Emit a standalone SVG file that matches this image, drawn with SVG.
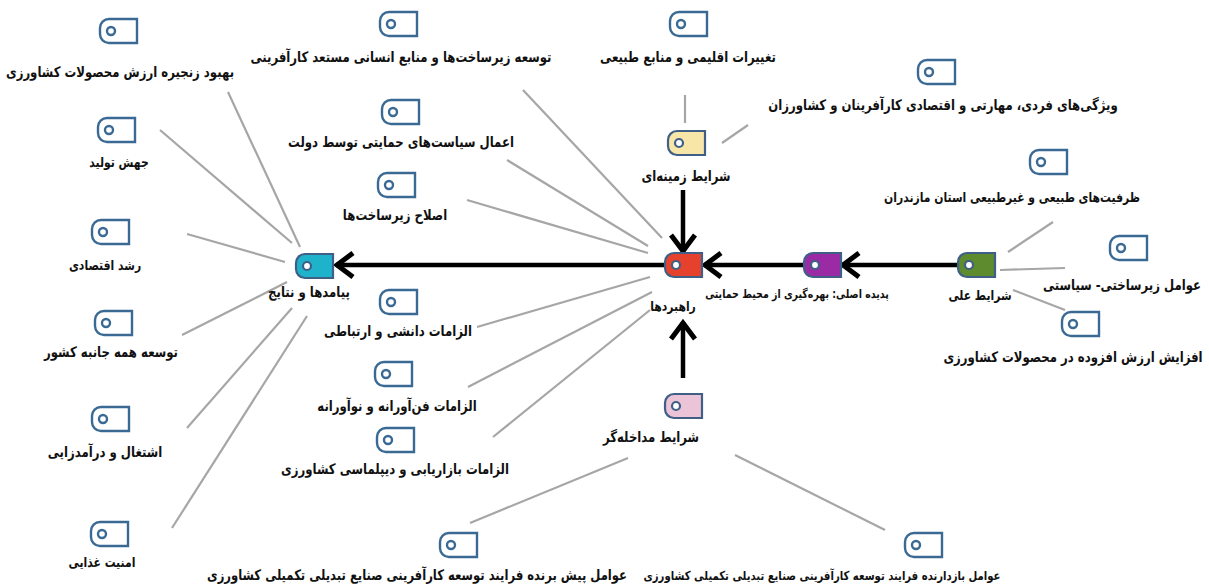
<svg xmlns="http://www.w3.org/2000/svg" xmlns:xlink="http://www.w3.org/1999/xlink" width="1209" height="587" viewBox="0 0 1209 587">
<style>
text{font-family:"DejaVu Sans Condensed","DejaVu Sans",sans-serif;font-stretch:condensed;font-weight:bold;fill:#111;text-anchor:middle;direction:rtl}
.t{font-size:14.5px}
.s{font-size:13.4px}
.ic{fill:#fff;stroke:#3A6A94;stroke-width:2.4}
.cn{stroke:#3F5F87;stroke-width:2.2}
.g line{stroke:#A6A6A6;stroke-width:2.2}
.a line{stroke:#000;stroke-width:4.5}
</style>
<defs>
<g id="tag"><path d="M9,0 H37 V24 H9 A9,9 0 0 1 0,15 V9 A9,9 0 0 1 9,0 Z"/><circle cx="11" cy="12" r="4" fill="#fff"/></g>
<marker id="ah" markerUnits="userSpaceOnUse" markerWidth="40" markerHeight="40" viewBox="-25 -20 40 40" refX="0" refY="0" orient="auto" overflow="visible"><path d="M-17,-12 L-1,0 L-17,12" fill="none" stroke="#000" stroke-width="5"/></marker>
</defs>
<rect width="1209" height="587" fill="#fff"/>
<g id="connectors">
<g class="g">
<line x1="228" y1="92" x2="300" y2="247"/>
<line x1="160" y1="130" x2="292" y2="243"/>
<line x1="187" y1="234" x2="285" y2="262"/>
<line x1="182" y1="335" x2="287" y2="282"/>
<line x1="187" y1="428" x2="292" y2="308"/>
<line x1="172" y1="528" x2="307" y2="316"/>
<line x1="523" y1="90" x2="662" y2="238"/>
<line x1="507" y1="160" x2="648" y2="246"/>
<line x1="467" y1="200" x2="648" y2="253"/>
<line x1="477" y1="327" x2="650" y2="277"/>
<line x1="468" y1="387" x2="652" y2="292"/>
<line x1="493" y1="437" x2="650" y2="310"/>
<line x1="685" y1="95" x2="685" y2="123"/>
<line x1="722" y1="143" x2="748" y2="125"/>
<line x1="1008" y1="252" x2="1053" y2="222"/>
<line x1="1000" y1="270" x2="1065" y2="268"/>
<line x1="1013" y1="290" x2="1065" y2="310"/>
<line x1="628" y1="458" x2="470" y2="523"/>
<line x1="735" y1="455" x2="885" y2="530"/>
</g>
<g class="a">
<line x1="664" y1="265" x2="336" y2="265" marker-end="url(#ah)"/>
<line x1="805" y1="265" x2="704" y2="265" marker-end="url(#ah)"/>
<line x1="958" y1="265" x2="842" y2="265" marker-end="url(#ah)"/>
<line x1="683" y1="190" x2="683" y2="252" marker-end="url(#ah)"/>
<line x1="683" y1="378" x2="683" y2="322" marker-end="url(#ah)"/>
</g>
</g>
<g id="n1"><use xlink:href="#tag" x="100" y="19" class="ic"/><text class="t" transform="scale(0.897 1)" x="133.8" y="77">بهبود زنجیره ارزش محصولات کشاورزی</text></g>
<g id="n2"><use xlink:href="#tag" x="380" y="12" class="ic"/><text class="t" transform="scale(0.897 1)" x="447" y="62">توسعه زیرساخت‌ها و منابع  انسانی مستعد کارآفرینی</text></g>
<g id="n3"><use xlink:href="#tag" x="670" y="12" class="ic"/><text class="t" transform="scale(0.897 1)" x="767" y="62">تغییرات اقلیمی و منابع طبیعی</text></g>
<g id="n4"><use xlink:href="#tag" x="918" y="60" class="ic"/><text class="t" transform="scale(0.897 1)" x="1051.3" y="110">ویژگی‌های فردی، مهارتی و اقتصادی کارآفرینان و کشاورزان</text></g>
<g id="n5"><use xlink:href="#tag" x="382" y="100" class="ic"/><text class="t" transform="scale(0.897 1)" x="447" y="147">اعمال سیاست‌های حمایتی توسط دولت</text></g>
<g id="n6"><use xlink:href="#tag" x="98" y="118" class="ic"/><text class="s" transform="scale(0.897 1)" x="132.7" y="167">جهش تولید</text></g>
<g id="n7"><use xlink:href="#tag" x="668" y="131" class="cn" fill="#F8E6A8"/><text class="t" transform="scale(0.897 1)" x="764.8" y="181">شرایط زمینه‌ای</text></g>
<g id="n8"><use xlink:href="#tag" x="1030" y="150" class="ic"/><text class="s" transform="scale(0.897 1)" x="1128.2" y="202">ظرفیت‌های طبیعی و غیرطبیعی استان مازندران</text></g>
<g id="n9"><use xlink:href="#tag" x="378" y="173" class="ic"/><text class="t" transform="scale(0.897 1)" x="440.4" y="220">اصلاح زیرساخت‌ها</text></g>
<g id="n10"><use xlink:href="#tag" x="92" y="220" class="ic"/><text class="s" transform="scale(0.897 1)" x="117.1" y="270">رشد اقتصادی</text></g>
<g id="n11"><use xlink:href="#tag" x="1110" y="236" class="ic"/><text class="t" transform="scale(0.897 1)" x="1250.8" y="290">عوامل زیرساختی- سیاستی</text></g>
<g id="n12"><use xlink:href="#tag" x="296" y="254" class="cn" fill="#1FB3CB"/><text class="t" transform="scale(0.897 1)" x="344.5" y="297">پیامدها و نتایج</text></g>
<g id="n13"><use xlink:href="#tag" x="665" y="253" class="cn" fill="#E5412D"/><text class="s" transform="scale(0.897 1)" x="750.3" y="311">راهبردها</text></g>
<g id="n14"><use xlink:href="#tag" x="804" y="253" class="cn" fill="#9A2BA5"/><text transform="scale(0.897 1)" x="888.5" y="298" font-size="11.7">پدیده اصلی: بهره‌گیری از محیط حمایتی</text></g>
<g id="n15"><use xlink:href="#tag" x="958" y="253" class="cn" fill="#5E8B2D"/><text class="s" transform="scale(0.897 1)" x="1092.5" y="300">شرایط علی</text></g>
<g id="n16"><use xlink:href="#tag" x="380" y="290" class="ic"/><text class="t" transform="scale(0.897 1)" x="443.7" y="336">الزامات دانشی و ارتباطی</text></g>
<g id="n17"><use xlink:href="#tag" x="1062" y="312" class="ic"/><text class="t" transform="scale(0.897 1)" x="1196.2" y="362">افزایش ارزش افزوده در محصولات کشاورزی</text></g>
<g id="n18"><use xlink:href="#tag" x="95" y="311" class="ic"/><text class="t" transform="scale(0.897 1)" x="123.7" y="357">توسعه همه جانبه  کشور</text></g>
<g id="n19"><use xlink:href="#tag" x="375" y="362" class="ic"/><text class="t" transform="scale(0.897 1)" x="442.6" y="411">الزامات فن‌آورانه و نوآورانه</text></g>
<g id="n20"><use xlink:href="#tag" x="665" y="394" class="cn" fill="#EBC4D7"/><text class="t" transform="scale(0.897 1)" x="725.8" y="442">شرایط مداخله‌گر</text></g>
<g id="n21"><use xlink:href="#tag" x="92" y="407" class="ic"/><text class="t" transform="scale(0.897 1)" x="117.1" y="457">اشتغال و درآمدزایی</text></g>
<g id="n22"><use xlink:href="#tag" x="377" y="428" class="ic"/><text class="t" transform="scale(0.897 1)" x="440.4" y="474">الزامات بازاریابی و دیپلماسی کشاورزی</text></g>
<g id="n23"><use xlink:href="#tag" x="91" y="522" class="ic"/><text class="s" transform="scale(0.897 1)" x="113.7" y="567">امنیت غذایی</text></g>
<g id="n24"><use xlink:href="#tag" x="440" y="533" class="ic"/><text transform="scale(0.897 1)" x="464.9" y="580" font-size="14.4">عوامل پیش برنده فرایند توسعه کارآفرینی صنایع تبدیلی تکمیلی کشاورزی</text></g>
<g id="n25"><use xlink:href="#tag" x="905" y="533" class="ic"/><text transform="scale(0.897 1)" x="916.4" y="580" font-size="12.5">عوامل بازدارنده فرایند توسعه کارآفرینی صنایع تبدیلی تکمیلی کشاورزی</text></g>
</svg>
